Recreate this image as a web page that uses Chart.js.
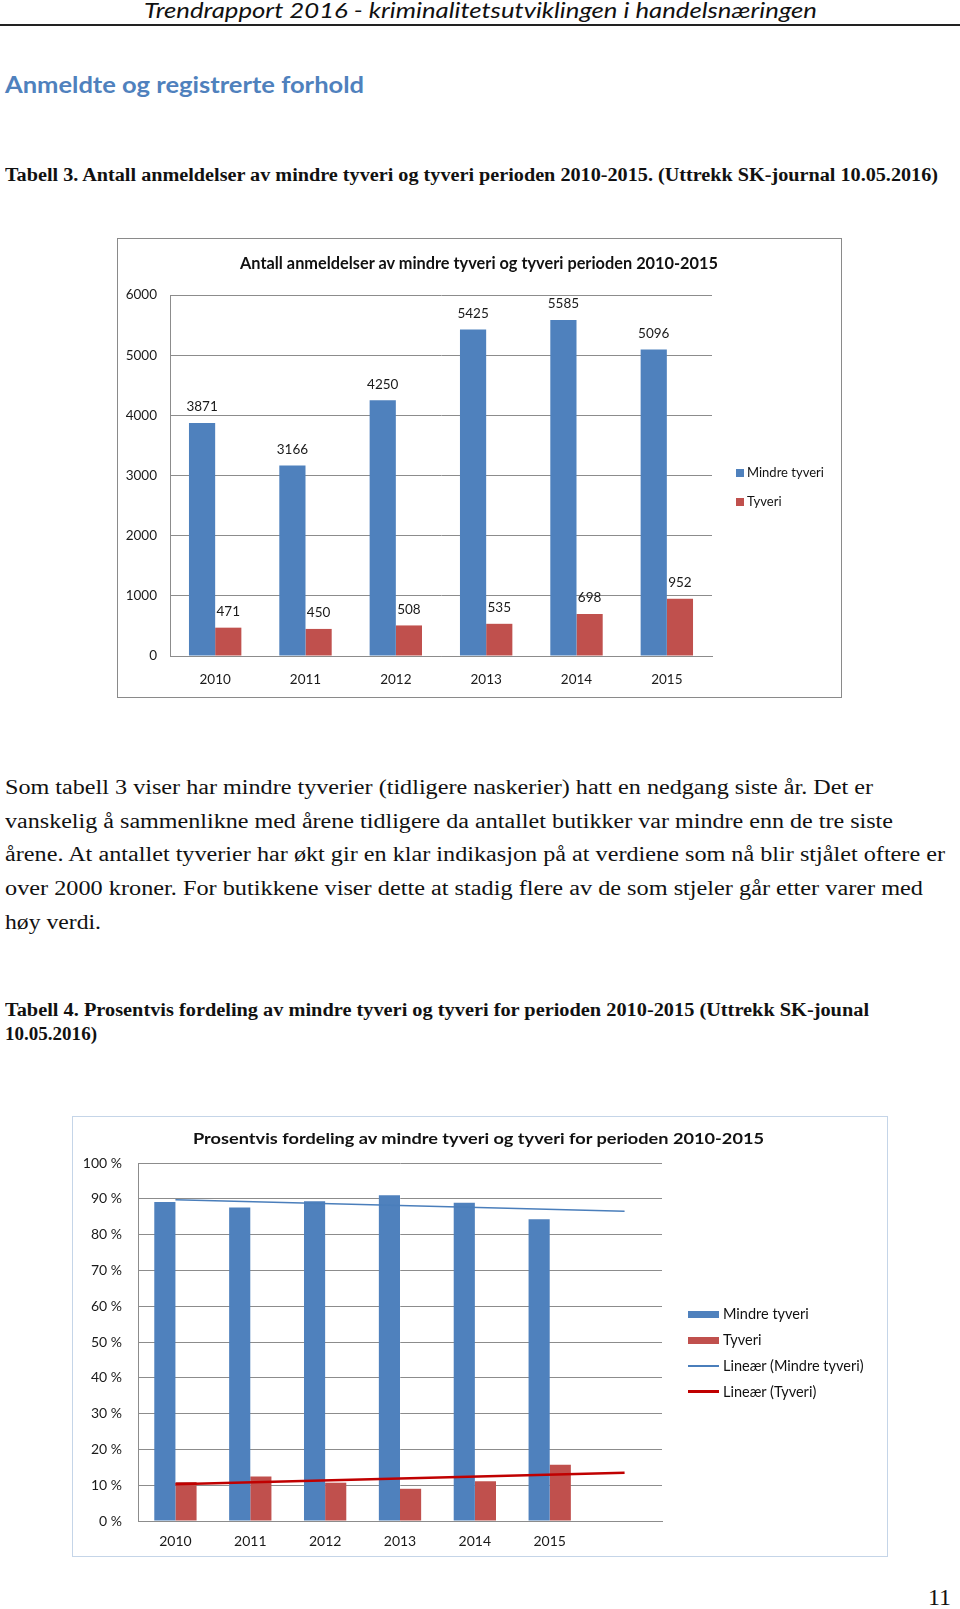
<!DOCTYPE html>
<html>
<head>
<meta charset="utf-8">
<script src="https://cdn.jsdelivr.net/npm/chart.js@4.4.0/dist/chart.umd.min.js"></script>
<style>
  body { margin: 0; background: #fff; width: 960px; height: 1609px; position: relative; overflow: hidden; }
  .t { position: absolute; white-space: nowrap; line-height: 1; transform-origin: 0 50%; display: inline-block; color: #111; }
  .serif { font-family: "Liberation Serif", serif; }
  .sans { font-family: Lato, sans-serif; }
  .box { position: absolute; box-sizing: border-box; }
  .box canvas { position: absolute; left: 0; top: 0; }
  .sw { position: absolute; }
</style>
</head>
<body>

<div class="t sans" data-w="673" style="left:144px; top:-1px; font-size:22px; font-style:italic;">Trendrapport 2016 - kriminalitetsutviklingen i handelsnæringen</div>
<div style="position:absolute; left:0; top:24px; width:960px; height:1.5px; background:#222;"></div>

<div class="t sans" data-w="359" style="left:5px; top:73px; font-size:23px; font-weight:bold; color:#4f81bd;">Anmeldte og registrerte forhold</div>

<div class="t serif" data-w="933" style="left:5px; top:166px; font-size:18px; font-weight:bold;">Tabell 3. Antall anmeldelser av mindre tyveri og tyveri perioden 2010-2015. (Uttrekk SK-journal 10.05.2016)</div>

<!-- figur 1 -->
<div class="box" id="box1" style="left:117px; top:238px; width:725px; height:460px; border:1.5px solid #8a8a8a;">
  <canvas id="chart1" width="722" height="457"></canvas>
</div>
<div class="t sans" data-w="478" style="left:240px; top:254px; font-size:17px; font-weight:bold;">Antall anmeldelser av mindre tyveri og tyveri perioden 2010-2015</div>
<div class="sw" style="left:736px; top:469px; width:8px; height:8px; background:#4f81bd;"></div>
<div class="t sans" style="left:747px; top:466px; font-size:13px;">Mindre tyveri</div>
<div class="sw" style="left:736px; top:498px; width:8px; height:8px; background:#c0504d;"></div>
<div class="t sans" style="left:747px; top:495px; font-size:13px;">Tyveri</div>

<div class="t serif" data-w="868" style="left:5px; top:777px; font-size:20px;">Som tabell 3 viser har mindre tyverier (tidligere naskerier) hatt en nedgang siste år. Det er</div>
<div class="t serif" data-w="888" style="left:5px; top:811px; font-size:20px;">vanskelig å sammenlikne med årene tidligere da antallet butikker var mindre enn de tre siste</div>
<div class="t serif" data-w="940" style="left:5px; top:844px; font-size:20px;">årene. At antallet tyverier har økt gir en klar indikasjon på at verdiene som nå blir stjålet oftere er</div>
<div class="t serif" data-w="918" style="left:5px; top:878px; font-size:20px;">over 2000 kroner. For butikkene viser dette at stadig flere av de som stjeler går etter varer med</div>
<div class="t serif" data-w="96" style="left:5px; top:912px; font-size:20px;">høy verdi.</div>

<div class="t serif" data-w="864" style="left:5px; top:1001px; font-size:18px; font-weight:bold;">Tabell 4. Prosentvis fordeling av mindre tyveri og tyveri for perioden 2010-2015 (Uttrekk SK-jounal</div>
<div class="t serif" data-w="92" style="left:5px; top:1025px; font-size:18px; font-weight:bold;">10.05.2016)</div>

<!-- figur 2 -->
<div class="box" id="box2" style="left:72px; top:1116px; width:816px; height:441px; border:1.5px solid #c5d5e8;">
  <canvas id="chart2" width="813" height="438"></canvas>
</div>
<div class="t sans" data-w="571" style="left:193px; top:1130px; font-size:16px; font-weight:bold;">Prosentvis fordeling av mindre tyveri og tyveri for perioden 2010-2015</div>
<div class="sw" style="left:688px; top:1311px; width:31px; height:7px; background:#4f81bd;"></div>
<div class="t sans" style="left:723px; top:1307px; font-size:14.5px;">Mindre tyveri</div>
<div class="sw" style="left:688px; top:1337px; width:31px; height:7px; background:#c0504d;"></div>
<div class="t sans" style="left:723px; top:1333px; font-size:14.5px;">Tyveri</div>
<div class="sw" style="left:688px; top:1365px; width:31px; height:1.5px; background:#4a7ebb;"></div>
<div class="t sans" style="left:723px; top:1359px; font-size:14.5px;">Lineær (Mindre tyveri)</div>
<div class="sw" style="left:688px; top:1390px; width:31px; height:2.5px; background:#c00000;"></div>
<div class="t sans" style="left:723px; top:1385px; font-size:14.5px;">Lineær (Tyveri)</div>

<div class="t serif" style="left:928px; top:1585px; font-size:24px;">11</div>

<script>
// data
const years = ['2010', '2011', '2012', '2013', '2014', '2015'];
const mindreTyveri = [3871, 3166, 4250, 5425, 5585, 5096];
const tyveri = [471, 450, 508, 535, 698, 952];

// prosent, lest av figuren
const years2 = ['2010', '2011', '2012', '2013', '2014', '2015', ''];
const mindrePct = [89.1, 87.6, 89.3, 91.0, 88.9, 84.3];
const tyveriPct = [10.9, 12.4, 10.7, 9.0, 11.1, 15.7];
const trendMindre = [89.7, null, null, null, null, null, 86.5];
const trendTyveri = [10.3, null, null, null, null, null, 13.5];

const blue = '#4f81bd';
const red = '#c0504d';
const gridCol = '#8c8c8c';

// tekst skaleres til bredden i originalen
document.querySelectorAll('[data-w]').forEach(el => {
    const w = el.getBoundingClientRect().width;
    const target = parseFloat(el.dataset.w);
    if (w > 0) el.style.transform = 'scaleX(' + (target / w).toFixed(4) + ')';
});

Chart.defaults.font.family = 'Lato';
Chart.defaults.color = '#1a1a1a';

// tall over stolpene
const barLabels = {
    id: 'barLabels',
    afterDatasetsDraw(chart) {
        const ctx = chart.ctx;
        ctx.save();
        ctx.font = '13.5px Lato';
        ctx.fillStyle = '#1a1a1a';
        ctx.textAlign = 'center';
        ctx.textBaseline = 'middle';
        chart.data.datasets.forEach((ds, i) => {
            chart.getDatasetMeta(i).data.forEach((bar, j) => {
                ctx.fillText(ds.data[j], bar.x, bar.y - 16);
            });
        });
        ctx.restore();
    }
};

new Chart(document.getElementById('chart1'), {
    type: 'bar',
    data: {
        labels: years,
        datasets: [
            { label: 'Mindre tyveri', data: mindreTyveri, backgroundColor: blue },
            { label: 'Tyveri', data: tyveri, backgroundColor: red }
        ]
    },
    options: {
        responsive: false,
        animation: false,
        layout: { padding: { left: 0, right: 128, top: 56, bottom: 0 } },
        datasets: { bar: { categoryPercentage: 0.58, barPercentage: 1.0 } },
        plugins: { legend: { display: false }, tooltip: { enabled: false } },
        scales: {
            x: {
                grid: { display: false },
                border: { color: gridCol },
                ticks: { padding: 8, font: { size: 13.5 } },
                afterFit(scale) { scale.height = 40; }
            },
            y: {
                min: 0, max: 6000,
                ticks: { stepSize: 1000, padding: 13, font: { size: 13.5 }, callback: v => String(v) },
                grid: { color: gridCol, drawTicks: false },
                border: { color: gridCol },
                afterFit(scale) { scale.width = 52; }
            }
        }
    },
    plugins: [barLabels]
});

new Chart(document.getElementById('chart2'), {
    type: 'bar',
    data: {
        labels: years2,
        datasets: [
            { type: 'line', label: 'Lineær (Mindre tyveri)', data: trendMindre, borderColor: '#4a7ebb', borderWidth: 1.5, pointRadius: 0, spanGaps: true, order: 0 },
            { type: 'line', label: 'Lineær (Tyveri)', data: trendTyveri, borderColor: '#c00000', borderWidth: 2.5, pointRadius: 0, spanGaps: true, order: 0 },
            { label: 'Mindre tyveri', data: mindrePct, backgroundColor: blue, order: 1 },
            { label: 'Tyveri', data: tyveriPct, backgroundColor: red, order: 1 }
        ]
    },
    options: {
        responsive: false,
        animation: false,
        layout: { padding: { left: 0, right: 224, top: 46, bottom: 0 } },
        datasets: { bar: { categoryPercentage: 0.565, barPercentage: 1.0 } },
        plugins: { legend: { display: false }, tooltip: { enabled: false } },
        scales: {
            x: {
                grid: { display: false },
                border: { color: gridCol },
                ticks: { padding: 4, font: { size: 14 } },
                afterFit(scale) { scale.height = 34; }
            },
            y: {
                min: 0, max: 100,
                ticks: { stepSize: 10, padding: 16, font: { size: 14 }, callback: v => v + ' %' },
                grid: { color: gridCol, drawTicks: false },
                border: { color: gridCol },
                afterFit(scale) { scale.width = 65; }
            }
        }
    }
});
</script>
</body>
</html>
